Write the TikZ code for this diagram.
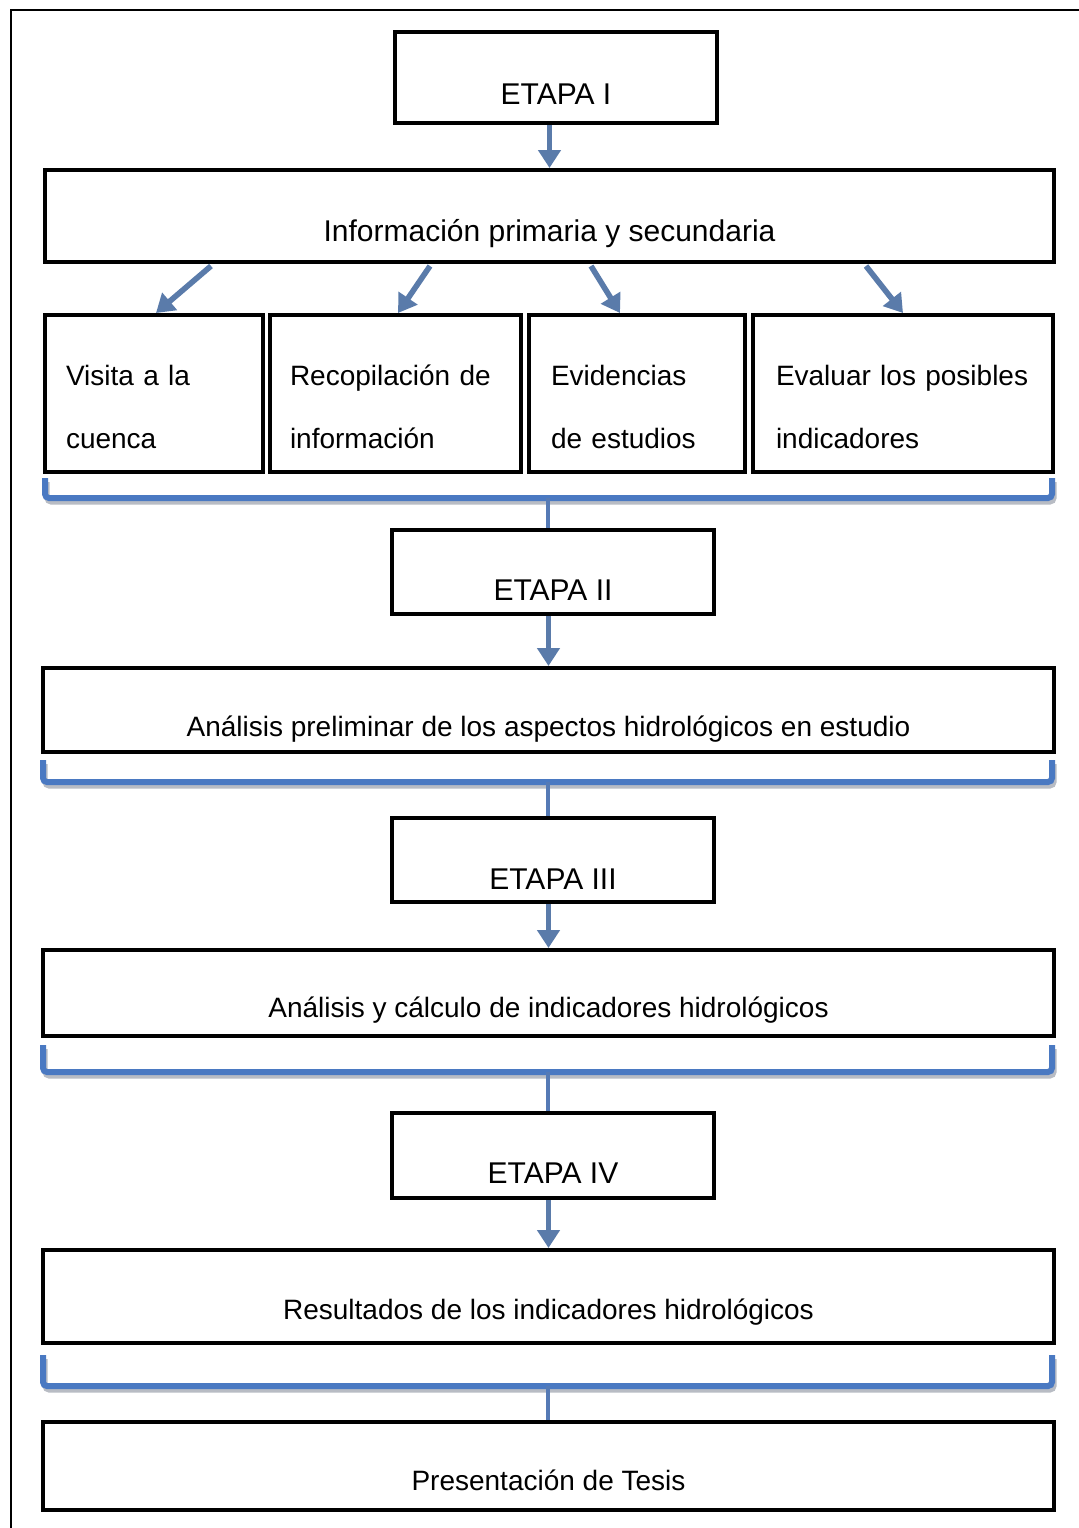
\documentclass[tikz,border=0pt]{standalone}
\usepackage{fontspec}
\setmainfont{Liberation Sans}
\usetikzlibrary{arrows.meta}
\definecolor{flowblue}{HTML}{4A79C2}
\definecolor{arrowblue}{HTML}{5A7BAA}
\definecolor{bracketshade}{HTML}{B8BCC4}
\begin{document}
\begin{tikzpicture}[x=0.5pt,y=-0.5pt,
  box/.style={draw=black, line width=2pt, inner sep=0pt, fill=white,
    font=\fontsize{14}{16}\selectfont},
  stagebox/.style={box, minimum width=161pt, font=\fontsize{15}{17}\selectfont},
  widebox/.style={box, minimum width=505.5pt},
  drop/.style={text height=#1, text depth=0pt},
  twoline/.style={box, align=left, minimum height=78.5pt,
    text height=31.5pt, text depth=40pt,
    font=\fontsize{14}{31.5}\selectfont},
  flowarrow/.style={draw=arrowblue, line width=2.8pt,
    -{Triangle[length=9pt,width=11pt]}},
  bracket/.style={draw=flowblue, line width=3pt, rounded corners=2pt},
  bracketshadow/.style={draw=bracketshade, line width=2.5pt, rounded corners=2pt},
  link/.style={draw=flowblue!80!gray, line width=2pt}
]
\fill[white] (0,0) rectangle (1079,1528);
\useasboundingbox (0,0) rectangle (1079,1528);

% page frame
\draw[line width=1pt] (11,1528) -- (11,10) -- (1079,10);

% stage I
\node[stagebox, minimum height=45.5pt, drop=26.5pt] (e1) at (556,77.5) {ETAPA I};
\node[box, minimum width=504.5pt, minimum height=46pt, drop=25pt,
  font=\fontsize{15}{17}\selectfont] (info) at (549.5,216)
  {Información primaria y secundaria};
\draw[flowarrow] (info.north |- e1.south) -- (info.north);

\node[twoline, minimum width=109pt, inner xsep=10.5pt, text width=88pt]
  (b1) at (154,393.5) {Visita a la\\cuenca};
\node[twoline, minimum width=125.5pt, inner xsep=10pt, text width=105.5pt]
  (b2) at (395.5,393.5) {Recopilación de\\información};
\node[twoline, minimum width=108pt, inner xsep=11pt, text width=86pt]
  (b3) at (637,393.5) {Evidencias\\de estudios};
\node[twoline, minimum width=150pt, inner xsep=11.5pt, text width=127pt]
  (b4) at (903,393.5) {Evaluar los posibles\\indicadores};

\draw[flowarrow] ([xshift=84pt,yshift=-1pt]info.south west) -- ([xshift=56.5pt]b1.north west);
\draw[flowarrow] ([xshift=193.5pt,yshift=-1pt]info.south west) -- ([xshift=65pt]b2.north west);
\draw[flowarrow] ([xshift=274pt,yshift=-1pt]info.south west) -- ([xshift=46.5pt]b3.north west);
\draw[flowarrow] ([xshift=411.5pt,yshift=-1pt]info.south west) -- ([xshift=76pt]b4.north west);

% bracket under the four tasks
\draw[bracketshadow] (47,482) -- (47,502) -- (1054,502) -- (1054,482);
\draw[bracket] (45,478) -- (45,498) -- (1052,498) -- (1052,478);
\coordinate (k1) at (548,498);

% stage II
\node[stagebox, minimum height=42pt, drop=28pt] (e2) at (553,572) {ETAPA II};
\draw[link] (k1) -- (k1 |- e2.north);
\node[widebox, minimum height=42pt, drop=26pt] (prel) at (548.5,710)
  {Análisis preliminar de los aspectos hidrológicos en estudio};
\draw[flowarrow] (prel.north |- e2.south) -- (prel.north);

\draw[bracketshadow] (45,764) -- (45,786) -- (1054,786) -- (1054,764);
\draw[bracket] (43,760) -- (43,782) -- (1052,782) -- (1052,760);
\coordinate (k2) at (548,782);

% stage III
\node[stagebox, minimum height=42pt, drop=29pt] (e3) at (553,860) {ETAPA III};
\draw[link] (k2) -- (k2 |- e3.north);
\node[widebox, minimum height=43pt, drop=24pt] (calc) at (548.5,993)
  {Análisis y cálculo de indicadores hidrológicos};
\draw[flowarrow] (calc.north |- e3.south) -- (calc.north);

\draw[bracketshadow] (45,1049) -- (45,1076) -- (1054,1076) -- (1054,1049);
\draw[bracket] (43,1045) -- (43,1072) -- (1052,1072) -- (1052,1045);
\coordinate (k3) at (548,1072);

% stage IV
\node[stagebox, minimum height=42.5pt, drop=27.5pt] (e4) at (553,1155.5) {ETAPA IV};
\draw[link] (k3) -- (k3 |- e4.north);
\node[widebox, minimum height=46.5pt, drop=22.5pt] (res) at (548.5,1296.5)
  {Resultados de los indicadores hidrológicos};
\draw[flowarrow] (res.north |- e4.south) -- (res.north);

\draw[bracketshadow] (45,1359) -- (45,1390) -- (1054,1390) -- (1054,1359);
\draw[bracket] (43,1355) -- (43,1386) -- (1052,1386) -- (1052,1355);
\coordinate (k4) at (548,1386);

% final delivery
\node[widebox, minimum height=44pt, drop=24pt] (tesis) at (548.5,1466)
  {Presentación de Tesis};
\draw[link] (k4) -- (k4 |- tesis.north);
\end{tikzpicture}
\end{document}
